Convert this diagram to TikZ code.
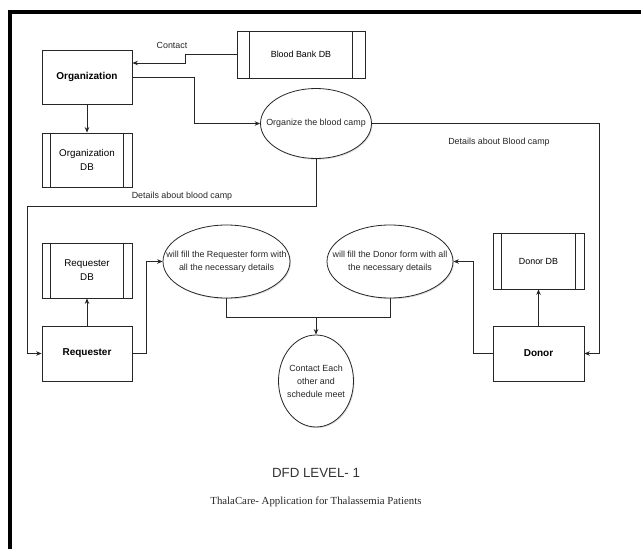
\documentclass[tikz,border=0pt]{standalone}
\usepackage{fontspec}
\setmainfont{Liberation Sans}
\newfontfamily\thalaserif{Liberation Serif}
\usetikzlibrary{arrows.meta,shapes.geometric,shadows}
\tikzset{
  flow/.style={draw=black!85, line width=0.8pt, -{Stealth[length=5.5pt,width=4.5pt]}},
  plain/.style={draw=black!85, line width=0.8pt},
  sh/.style={drop shadow={opacity=0.25, shadow xshift=1pt, shadow yshift=-1.2pt}},
  entity/.style={draw=black!85, line width=0.8pt, fill=white, sh, rectangle, inner sep=0pt,
    minimum width=90pt, minimum height=55pt, font=\fontsize{10}{13}\selectfont\bfseries},
  store/.style={draw=black!85, line width=0.8pt, fill=white, sh, rectangle, inner sep=0pt, align=center,
    font=\fontsize{9.8}{14}\selectfont},
  bubble/.style={draw=black!85, line width=0.8pt, fill=white, sh, ellipse, inner sep=0pt},
  lbl/.style={font=\fontsize{8.9}{13.5}\selectfont, align=center, inner sep=0pt, text=black!85}
}
\begin{document}
\begin{tikzpicture}[x=1pt,y=-1pt]
\useasboundingbox (0,0) rectangle (641,549);
% frame
\draw[line width=4pt, line join=miter] (641,12) -- (10,12) -- (10,549);

% data stores
\node[store, minimum width=128pt, minimum height=47pt, font=\fontsize{8.9}{12}\selectfont] (bb) at (301,54.5) {Blood Bank DB};
\draw[plain] ([xshift=13pt]bb.north west) -- ([xshift=13pt]bb.south west);
\draw[plain] ([xshift=-13pt]bb.north east) -- ([xshift=-13pt]bb.south east);

\node[store, minimum width=90pt, minimum height=54pt] (orgdb) at (87,160) {Organization\\DB};
\draw[plain] ([xshift=9pt]orgdb.north west) -- ([xshift=9pt]orgdb.south west);
\draw[plain] ([xshift=-9pt]orgdb.north east) -- ([xshift=-9pt]orgdb.south east);

\node[store, minimum width=90pt, minimum height=55pt] (reqdb) at (87,270.5) {Requester\\DB};
\draw[plain] ([xshift=9pt]reqdb.north west) -- ([xshift=9pt]reqdb.south west);
\draw[plain] ([xshift=-9pt]reqdb.north east) -- ([xshift=-9pt]reqdb.south east);

\node[store, minimum width=91pt, minimum height=56pt, font=\fontsize{8.9}{12}\selectfont] (donordb) at (538.5,261) {Donor DB};
\draw[plain] ([xshift=9pt]donordb.north west) -- ([xshift=9pt]donordb.south west);
\draw[plain] ([xshift=-9pt]donordb.north east) -- ([xshift=-9pt]donordb.south east);

% entities
\node[entity, minimum height=54pt] (org) at (87,77) {Organization};
\node[entity] (req) at (87,353.5) {Requester};
\node[entity, minimum width=91pt] (donor) at (538.5,353.5) {Donor};

% processes
\node[bubble, minimum width=111pt, minimum height=70pt] (camp) at (316,123.5) {};
\node[lbl] at (camp) {Organize the blood camp};
\node[bubble, minimum width=127pt, minimum height=73pt] (fillreq) at (226.5,261.5) {};
\node[lbl] at (fillreq) {will fill the Requester form with\\all the necessary details};
\node[bubble, minimum width=126pt, minimum height=73pt] (filldon) at (390,261.5) {};
\node[lbl] at (filldon) {will fill the Donor form with all\\the necessary details};
\node[bubble, minimum width=75pt, minimum height=92pt] (contact) at (316,381) {};
\node[lbl, font=\fontsize{8.9}{13}\selectfont] at (contact) {Contact Each\\other and\\schedule meet};

% connectors
\draw[flow] (bb.west) -- (185,54.5) -- (185,63) -- (org.east |- 185,63);
\node[lbl] (contactlbl) at (172,45) {Contact};
\draw[flow] (org.east) -- (194,77) -- (194,123.5) -- (camp.west);
\draw[flow] (org.south) -- (orgdb.north);
\draw[flow] (camp.east) -- (599,123.5) -- (599,353.5) -- (donor.east);
\node[lbl] (lblright) at (499,142) {Details about Blood camp};
\draw[flow] (camp.south) -- (316,206) -- (27,206) -- (27,353.5) -- (req.west);
\node[lbl] (lblleft) at (182,196) {Details about blood camp};
\draw[flow] (req.north) -- (reqdb.south);
\draw[flow] (req.east) -- (146,353.5) -- (146,261.5) -- (fillreq.west);
\draw[flow] (donor.north) -- (donordb.south);
\draw[flow] (donor.west) -- (473,353.5) -- (473,261.5) -- (filldon.east);
\draw[plain] (fillreq.south) -- (226.5,317) -- (390,317) -- (filldon.south);
\coordinate (merge) at (316,317);
\draw[flow] (merge) -- (contact.north);

% titles
\node[font=\fontsize{13.3}{16}\selectfont, text=black!80, inner sep=0pt] (title) at (316,473) {DFD LEVEL- 1};
\node[font=\thalaserif\fontsize{10.8}{13}\selectfont, text=black!85, inner sep=0pt] (subtitle) at (316,502) {ThalaCare- Application for Thalassemia Patients};
\end{tikzpicture}
\end{document}
